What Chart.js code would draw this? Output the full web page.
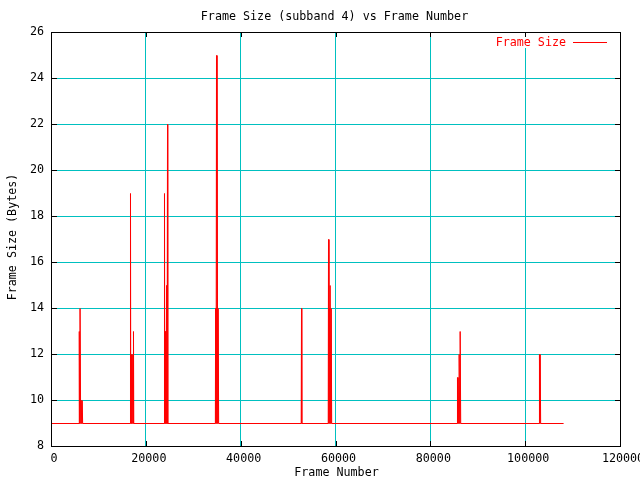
<!DOCTYPE html>
<html><head><meta charset="utf-8">
<script src="https://cdn.jsdelivr.net/npm/chart.js@4.4.0/dist/chart.umd.min.js"></script>
<style>html,body{margin:0;padding:0;background:#fff;}canvas{display:block;}</style>
</head><body>
<canvas id="c" width="640" height="480"></canvas>
<script>
const titleText = "Frame Size (subband 4) vs Frame Number";
const xTitle = "Frame Number";
const yTitle = "Frame Size (Bytes)";
const seriesLabel = "Frame Size";
const xTicks = [0, 20000, 40000, 60000, 80000, 100000, 120000];
const yTicks = [8, 10, 12, 14, 16, 18, 20, 22, 24, 26];

const frameNumbers = [
  0,
  5800, 5860, 5910, 5960, 6010, 6100, 6150, 6220, 6270, 6320, 6370, 6420, 6470, 6520, 6570,
  16600, 16660, 16720, 16860, 16920, 16980, 17040, 17080, 17140, 17290, 17350,
  23760, 23830, 23890, 23950, 24000, 24060, 24110, 24170, 24220, 24270, 24320, 24370, 24420, 24470, 24520,
  34560, 34610, 34660, 34710, 34760, 34800, 34850, 34900, 34950, 35000, 35050, 35100, 35150, 35200, 35250,
  52660, 52725, 52790,
  58360, 58420, 58480, 58530, 58580, 58630, 58680, 58730, 58780, 58840, 58890, 58940, 58990, 59040, 59090,
  85570, 85620, 85670, 85720, 85770, 85820, 85870, 85920, 85970, 86030, 86080, 86130, 86180, 86250, 86300,
  102860, 102910, 102960, 103010, 103060, 103110, 103160,
  108000
];
const frameSizes = [
  9,
  9, 13, 9, 13, 9, 14, 9, 10, 9, 10, 9, 10, 9, 10, 9,
  9, 19, 9, 12, 9, 12, 9, 12, 9, 13, 9,
  9, 19, 9, 13, 9, 13, 9, 13, 9, 15, 9, 15, 9, 22, 9,
  9, 14, 9, 14, 9, 25, 9, 24, 9, 24, 9, 14, 9, 14, 9,
  9, 14, 9,
  9, 17, 9, 12, 9, 14, 9, 14, 9, 15, 9, 14, 9, 14, 9,
  9, 11, 9, 11, 9, 11, 9, 11, 9, 12, 9, 12, 9, 13, 9,
  9, 12, 9, 12, 9, 12, 9,
  9
];

const FONT = '"DejaVu Sans Mono", "Liberation Mono", monospace';
const FSIZE = 11.7;
const RED = '#ff0000';
const GRID = '#00c0c0';

const deco = {
  id: 'deco',
  beforeDatasetsDraw(chart) {
    const ctx = chart.ctx;
    ctx.save();
    ctx.fillStyle = '#fff';
    ctx.fillRect(490, 37, 122, 11);
    ctx.restore();
    ctx.save(); ctx.translate(0.5, 0.5);
  },
  afterDatasetsDraw(chart) { chart.ctx.restore(); },
  afterDraw(chart) {
    const ctx = chart.ctx, a = chart.chartArea, x = chart.scales.x, y = chart.scales.y;
    ctx.save();
    ctx.strokeStyle = '#000';
    ctx.lineWidth = 1;
    ctx.strokeRect(a.left + 0.5, a.top + 0.5, a.right - a.left, a.bottom - a.top);
    ctx.beginPath();
    xTicks.forEach(v => {
      const px = Math.round(x.getPixelForValue(v)) + 0.5;
      ctx.moveTo(px, a.bottom); ctx.lineTo(px, a.bottom - 5);
      ctx.moveTo(px, a.top); ctx.lineTo(px, a.top + 5);
    });
    yTicks.forEach(v => {
      const py = Math.round(y.getPixelForValue(v)) + 0.5;
      ctx.moveTo(a.left, py); ctx.lineTo(a.left + 6, py);
      ctx.moveTo(a.right + 1, py); ctx.lineTo(a.right - 5, py);
    });
    ctx.stroke();

    ctx.font = FSIZE + 'px ' + FONT;
    ctx.fillStyle = '#000';
    ctx.textBaseline = 'middle';
    ctx.textAlign = 'center';
    ctx.fillText(titleText, (a.left + a.right) / 2 - 1, 16.5);
    ctx.fillText(xTitle, (a.left + a.right) / 2 + 1, 473);
    ctx.save();
    ctx.translate(12.5, 237);
    ctx.rotate(-Math.PI / 2);
    ctx.fillText(yTitle, 0, 0);
    ctx.restore();

    // key
    ctx.fillStyle = RED;
    ctx.textAlign = 'right';
    ctx.fillText(chart.data.datasets[0].label, 566, 42.5);
    ctx.strokeStyle = RED;
    ctx.beginPath();
    ctx.moveTo(573, 42.5); ctx.lineTo(607, 42.5);
    ctx.stroke();
    ctx.restore();
  }
};

const points = frameNumbers.map((f, i) => ({ x: f, y: frameSizes[i] }));

new Chart(document.getElementById('c'), {
  type: 'line',
  data: {
    datasets: [{
      label: seriesLabel,
      data: points,
      borderColor: RED,
      backgroundColor: RED,
      borderWidth: 1,
      pointRadius: 0,
      tension: 0,
      fill: false,
      borderJoinStyle: 'bevel'
    }]
  },
  options: {
    responsive: false,
    animation: false,
    events: [],
    layout: { padding: { top: 32, right: 20, left: 0, bottom: 0 } },
    plugins: { legend: { display: false }, title: { display: false }, tooltip: { enabled: false } },
    scales: {
      x: {
        type: 'linear', min: 0, max: 120000,
        afterFit: s => { s.height = 34; s.paddingLeft = 0; s.paddingRight = 0; },
        afterBuildTicks: s => { s.ticks = xTicks.map(v => ({ value: v })); },
        grid: { color: GRID, lineWidth: 1, drawTicks: false },
        border: { display: false },
        ticks: { color: '#000', font: { family: FONT, size: FSIZE }, padding: 6, labelOffset: 3, maxRotation: 0, autoSkip: false,
          callback: v => String(v) }
      },
      y: {
        type: 'linear', min: 8, max: 26,
        afterFit: s => { s.width = 51; s.paddingTop = 0; s.paddingBottom = 0; },
        afterBuildTicks: s => { s.ticks = yTicks.map(v => ({ value: v })); },
        grid: { color: GRID, lineWidth: 1, drawTicks: false },
        border: { display: false },
        ticks: { color: '#000', font: { family: FONT, size: FSIZE }, padding: 7, autoSkip: false,
          callback: v => String(v) }
      }
    }
  },
  plugins: [deco]
});
</script>
</body></html>
